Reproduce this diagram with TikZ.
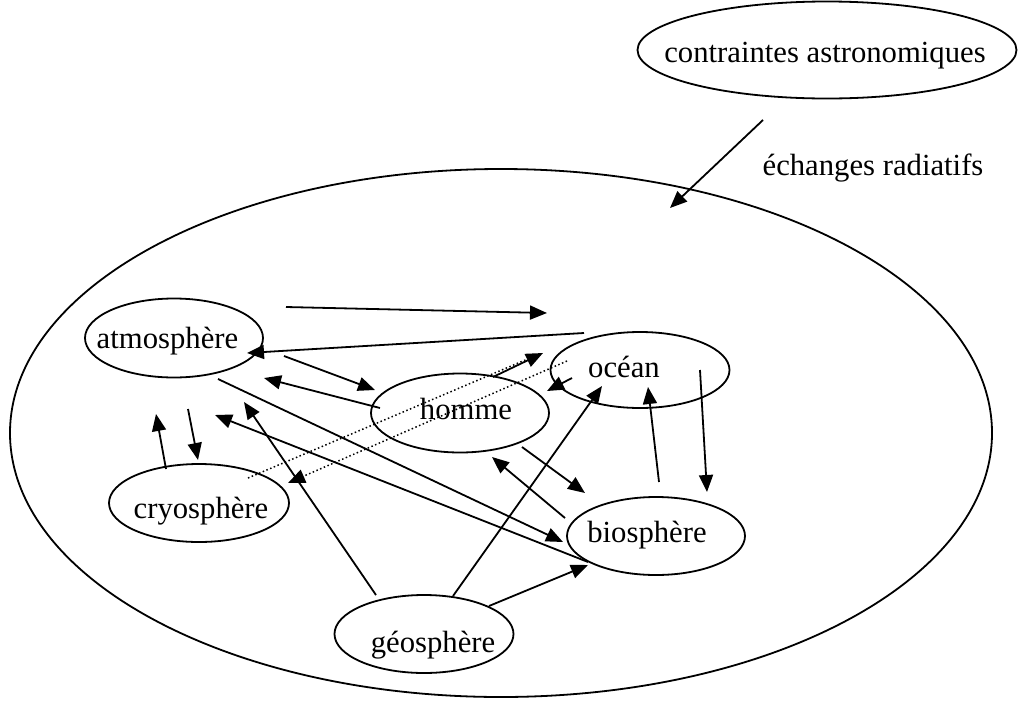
\documentclass[tikz,border=0pt]{standalone}
\usepackage{fontspec}
\setmainfont{Liberation Serif}
\usetikzlibrary{shapes.geometric,arrows.meta}
\begin{document}
\begin{tikzpicture}[x=1pt,y=-1pt,
  bub/.style={draw,ellipse,line width=1.8pt,inner sep=0pt},
  lbl/.style={anchor=base,inner sep=0pt,font=\fontsize{30.7}{36}\selectfont},
  tip/.style={-{Triangle[length=17pt,width=14pt]}},
  arr/.style={line width=1.8pt,tip},
  dots/.style={line width=1.5pt,dash pattern=on 1.5pt off 2.5pt}]
\useasboundingbox (0,0) rectangle (1018,705);
% ellipses
\node[bub,minimum width=982pt,minimum height=528pt] (world) at (501,433) {};
\node[bub,minimum width=379pt,minimum height=97pt] (astro) at (827,50) {};
\node[bub,minimum width=178pt,minimum height=79pt] (atm) at (174,338) {};
\node[bub,minimum width=180pt,minimum height=78pt] (cryo) at (199,503) {};
\node[bub,minimum width=178pt,minimum height=79pt] (hom) at (460,413) {};
\node[bub,minimum width=179pt,minimum height=76pt] (oce) at (640,370) {};
\node[bub,minimum width=178pt,minimum height=78pt] (bio) at (656,536) {};
\node[bub,minimum width=179pt,minimum height=78pt] (geo) at (424,634) {};
% texts
\node[lbl] (tastro) at (825,62) {contraintes astronomiques};
\node[lbl] (tech) at (873,175) {échanges radiatifs};
\node[lbl] (tatm) at (167.5,348) {atmosphère};
\node[lbl] (tcryo) at (201,518) {cryosphère};
\node[lbl] (thom) at (466,419) {homme};
\node[lbl] (toce) at (624,377) {océan};
\node[lbl] (tbio) at (647,542) {biosphère};
\node[lbl] (tgeo) at (433,652) {géosphère};
% arrows
\draw[arr] (763,120) -- (670,208);
\draw[arr] (286,307) -- (547,313);
\draw[arr] (584,333) -- (247,353);
\draw[arr] (284,356) -- (375,390);
\draw[arr] (380,408) -- (264,378);
\draw[arr] (493,377) -- (543,353);
\draw[arr] (572,378) -- (547,391);
\draw[arr] (700,370) -- (707,492);
\draw[arr] (659,482) -- (648,387);
\draw[arr] (522,447) -- (585,493);
\draw[arr] (565,518) -- (492,457);
\draw[arr] (453,596) -- (602,386);
\draw[arr] (489,606) -- (588,565);
\draw[arr] (376,595) -- (244,402);
\draw[arr] (218,379) -- (563,542);
\draw[arr] (588,562) -- (215,415);
\draw[arr] (188,409) -- (198,460);
\draw[arr] (166,469) -- (156,414);
% dotted
\draw[dots] (248,478) -- (537,355);
\draw[dots,tip] (567,361) -- (288,483);
\end{tikzpicture}
\end{document}
